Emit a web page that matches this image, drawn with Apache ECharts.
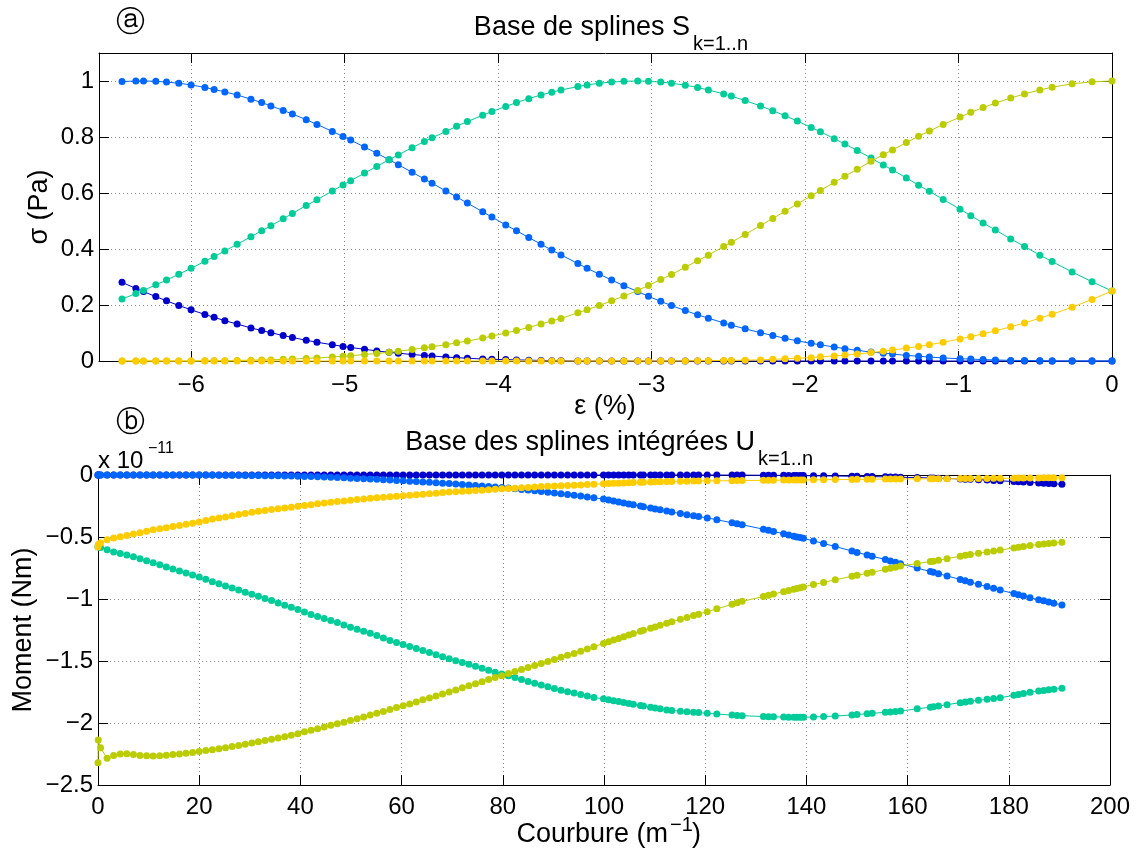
<!DOCTYPE html>
<html>
<head>
<meta charset="utf-8">
<script src="https://cdn.jsdelivr.net/npm/echarts@6/dist/echarts.min.js"></script>
<style>html,body{margin:0;padding:0;background:#fff}#c{width:1136px;height:852px}</style>
</head>
<body>
<div id="c"></div>
<script>
// ---------- Top panel: strain (%) and spline bases S1..S5 ----------
const strain = [-6.45, -6.36, -6.31, -6.23, -6.16, -6.08, -6.00, -5.91, -5.85, -5.78,
 -5.70, -5.61, -5.54, -5.48, -5.40, -5.34, -5.25, -5.18, -5.08, -5.01,
 -4.96, -4.87, -4.79, -4.71, -4.65, -4.56, -4.48, -4.43, -4.34, -4.27,
 -4.20, -4.10, -4.04, -3.95, -3.88, -3.80, -3.72, -3.65, -3.59, -3.48,
 -3.42, -3.34, -3.26, -3.18, -3.09, -3.02, -2.94, -2.87, -2.78, -2.70,
 -2.63, -2.53, -2.48, -2.39, -2.29, -2.21, -2.13, -2.05, -1.96, -1.90,
 -1.81, -1.74, -1.66, -1.57, -1.49, -1.43, -1.34, -1.26, -1.19, -1.10,
 -0.99, -0.92, -0.84, -0.76, -0.66, -0.57, -0.47, -0.39, -0.26, -0.13,
 0];
const S1 = [0.281, 0.259, 0.248, 0.230, 0.215, 0.198, 0.183, 0.166, 0.156, 0.144,
 0.132, 0.118, 0.109, 0.101, 0.091, 0.084, 0.074, 0.067, 0.058, 0.052,
 0.048, 0.042, 0.036, 0.031, 0.028, 0.023, 0.020, 0.018, 0.014, 0.012,
 0.010, 0.007, 0.006, 0.005, 0.004, 0.003, 0.002, 0.001, 0.001, 0,
 0, 0, 0, 0, 0, 0, 0, 0, 0, 0,
 0, 0, 0, 0, 0, 0, 0, 0, 0, 0,
 0, 0, 0, 0, 0, 0, 0, 0, 0, 0,
 0, 0, 0, 0, 0, 0, 0, 0, 0, 0,
 0];
const S2 = [0.998, 1.000, 1.000, 0.999, 0.996, 0.992, 0.986, 0.977, 0.970, 0.961,
 0.950, 0.935, 0.923, 0.911, 0.895, 0.882, 0.862, 0.845, 0.820, 0.802,
 0.789, 0.764, 0.742, 0.719, 0.701, 0.674, 0.650, 0.635, 0.607, 0.586,
 0.564, 0.533, 0.514, 0.486, 0.465, 0.441, 0.417, 0.396, 0.379, 0.348,
 0.331, 0.310, 0.289, 0.269, 0.248, 0.231, 0.213, 0.198, 0.180, 0.165,
 0.153, 0.136, 0.128, 0.115, 0.101, 0.091, 0.081, 0.072, 0.063, 0.058,
 0.050, 0.044, 0.038, 0.032, 0.028, 0.025, 0.020, 0.017, 0.014, 0.011,
 0.008, 0.007, 0.005, 0.004, 0.002, 0.002, 0.001, 0, 0, 0,
 0];
const S3 = [0.221, 0.241, 0.252, 0.272, 0.289, 0.310, 0.331, 0.356, 0.373, 0.393,
 0.417, 0.444, 0.465, 0.483, 0.508, 0.527, 0.555, 0.576, 0.607, 0.629,
 0.644, 0.671, 0.695, 0.719, 0.736, 0.762, 0.784, 0.797, 0.820, 0.838,
 0.855, 0.878, 0.891, 0.909, 0.923, 0.937, 0.950, 0.960, 0.968, 0.980,
 0.986, 0.992, 0.996, 0.999, 1.000, 0.999, 0.996, 0.992, 0.985, 0.977,
 0.968, 0.954, 0.946, 0.930, 0.911, 0.894, 0.876, 0.857, 0.834, 0.819,
 0.794, 0.775, 0.752, 0.725, 0.700, 0.682, 0.654, 0.628, 0.606, 0.577,
 0.542, 0.519, 0.493, 0.468, 0.436, 0.409, 0.378, 0.355, 0.318, 0.283,
 0.250];
const S4 = [0, 0, 0, 0, 0, 0, 0, 0.001, 0.001, 0.001,
 0.002, 0.003, 0.004, 0.004, 0.006, 0.007, 0.009, 0.011, 0.014, 0.017,
 0.019, 0.023, 0.027, 0.031, 0.035, 0.041, 0.047, 0.051, 0.058, 0.065,
 0.071, 0.082, 0.089, 0.100, 0.109, 0.120, 0.132, 0.143, 0.152, 0.172,
 0.183, 0.198, 0.215, 0.232, 0.252, 0.270, 0.291, 0.309, 0.335, 0.358,
 0.378, 0.409, 0.424, 0.452, 0.484, 0.509, 0.535, 0.561, 0.590, 0.609,
 0.638, 0.660, 0.685, 0.713, 0.737, 0.754, 0.780, 0.803, 0.821, 0.845,
 0.871, 0.888, 0.905, 0.921, 0.939, 0.954, 0.968, 0.978, 0.990, 0.997,
 1.000];
const S5 = [0, 0, 0, 0, 0, 0, 0, 0, 0, 0,
 0, 0, 0, 0, 0, 0, 0, 0, 0, 0,
 0, 0, 0, 0, 0, 0, 0, 0, 0, 0,
 0, 0, 0, 0, 0, 0, 0, 0, 0, 0,
 0, 0, 0, 0, 0, 0, 0, 0, 0, 0.001,
 0.001, 0.002, 0.002, 0.003, 0.004, 0.006, 0.008, 0.010, 0.012, 0.015,
 0.018, 0.021, 0.025, 0.030, 0.035, 0.039, 0.046, 0.052, 0.058, 0.067,
 0.079, 0.087, 0.097, 0.108, 0.122, 0.136, 0.153, 0.167, 0.192, 0.220,
 0.250];

// ---------- Bottom panel: curvature (1/m) and integrated bases U1..U5 (x 1e-11) ----------
const curv = [0, 0.05, 0.5, 1.8, 3.1, 4.4, 5.7, 7.0, 8.3, 9.6,
 10.9, 12.2, 13.5, 14.8, 16.1, 17.4, 18.7, 20.0, 21.3, 22.6,
 23.9, 25.2, 26.5, 27.8, 29.1, 30.4, 31.7, 33.0, 34.3, 35.6,
 36.9, 38.2, 39.5, 40.8, 42.1, 43.4, 44.7, 46.0, 47.3, 48.6,
 49.9, 51.2, 52.5, 53.8, 55.1, 56.4, 57.7, 59.0, 60.3, 61.6,
 62.9, 64.2, 65.5, 66.8, 68.1, 69.4, 70.7, 72.0, 73.3, 74.6,
 75.9, 77.2, 78.5, 79.8, 81.1, 82.4, 83.7, 85.0, 86.3, 87.6,
 88.9, 90.2, 91.5, 92.8, 94.1, 95.4, 96.7, 98.0,
 99.9, 100.9, 101.9, 102.9, 103.9, 104.9, 105.8, 107.2, 107.8, 109.2,
 110.1, 111.1, 112.4, 113.4, 115.1, 116.4, 117.7, 118.7, 120.4, 122.3,
 125.3, 126.3, 127.3, 131.5, 132.5, 133.5, 135.5, 136.5, 137.5, 138.1,
 138.8, 139.4, 141.4, 143.4, 145.7, 149.0, 150.0, 152.0, 153.0, 155.6,
 156.6, 157.6, 158.6, 161.9, 164.5, 165.1, 166.1, 167.8, 170.4, 171.4,
 172.4, 174.0, 175.7, 177.0, 178.3, 181.0, 181.9, 182.9, 184.2, 185.9,
 186.9, 187.9, 188.9, 190.5];
const U1 = [0, 0, 0, 0, 0, 0, 0, 0, 0, 0,
 0, 0, 0, 0, 0, 0, 0, 0, 0, 0,
 0, 0, 0, 0, 0, 0, 0, 0, 0, 0,
 0, 0, 0, 0, 0, 0, 0, 0, 0, 0,
 0, 0, 0, 0, 0, 0, 0, 0, 0, 0,
 0, 0, 0, 0, 0, 0, 0, 0, 0, 0,
 0, 0, 0, 0, 0, 0, 0, 0, 0, 0,
 0, 0, 0, 0, 0, 0, 0, 0,
 0, 0, 0, 0, 0, 0, 0, 0, 0, 0,
 0, 0, 0, 0, 0, 0, 0, 0, 0, 0,
 -0.001, -0.001, -0.001, -0.002, -0.002, -0.003, -0.003, -0.004, -0.004, -0.004,
 -0.005, -0.005, -0.006, -0.007, -0.008, -0.010, -0.011, -0.012, -0.013, -0.015,
 -0.016, -0.017, -0.018, -0.021, -0.024, -0.025, -0.026, -0.028, -0.032, -0.034,
 -0.035, -0.038, -0.041, -0.044, -0.047, -0.053, -0.055, -0.057, -0.060, -0.064,
 -0.066, -0.069, -0.071, -0.075];
const U2 = [0, 0, 0, 0, 0, 0, 0, 0, 0, 0,
 0, 0, 0, 0, 0, 0, 0, 0, -0.001, -0.001,
 -0.002, -0.002, -0.003, -0.003, -0.004, -0.004, -0.005, -0.006, -0.007, -0.007,
 -0.008, -0.009, -0.011, -0.012, -0.013, -0.015, -0.017, -0.019, -0.021, -0.023,
 -0.026, -0.028, -0.030, -0.033, -0.035, -0.038, -0.041, -0.044, -0.047, -0.050,
 -0.053, -0.056, -0.059, -0.063, -0.066, -0.069, -0.073, -0.077, -0.081, -0.084,
 -0.088, -0.092, -0.096, -0.100, -0.105, -0.110, -0.116, -0.121, -0.127, -0.133,
 -0.139, -0.145, -0.151, -0.157, -0.164, -0.170, -0.177, -0.184,
 -0.194, -0.202, -0.210, -0.218, -0.225, -0.233, -0.240, -0.251, -0.256, -0.267,
 -0.274, -0.281, -0.291, -0.299, -0.311, -0.320, -0.328, -0.335, -0.346, -0.361,
 -0.385, -0.393, -0.401, -0.437, -0.446, -0.455, -0.474, -0.483, -0.493, -0.499,
 -0.505, -0.511, -0.532, -0.552, -0.577, -0.613, -0.624, -0.645, -0.655, -0.682,
 -0.693, -0.704, -0.715, -0.751, -0.779, -0.785, -0.796, -0.814, -0.842, -0.853,
 -0.864, -0.881, -0.900, -0.914, -0.928, -0.956, -0.966, -0.976, -0.990, -1.006,
 -1.015, -1.024, -1.034, -1.048];
const U3 = [-0.578, -0.579, -0.584, -0.602, -0.620, -0.634, -0.646, -0.659, -0.675, -0.692,
 -0.708, -0.724, -0.741, -0.758, -0.774, -0.790, -0.806, -0.823, -0.841, -0.860,
 -0.878, -0.895, -0.911, -0.928, -0.945, -0.961, -0.977, -0.995, -1.013, -1.032,
 -1.050, -1.066, -1.084, -1.105, -1.124, -1.141, -1.157, -1.173, -1.190, -1.209,
 -1.228, -1.244, -1.260, -1.277, -1.294, -1.315, -1.335, -1.351, -1.367, -1.384,
 -1.400, -1.416, -1.431, -1.449, -1.466, -1.482, -1.497, -1.512, -1.527, -1.543,
 -1.558, -1.574, -1.590, -1.604, -1.619, -1.634, -1.649, -1.665, -1.680, -1.694,
 -1.708, -1.721, -1.735, -1.747, -1.759, -1.771, -1.783, -1.794,
 -1.805, -1.813, -1.820, -1.827, -1.834, -1.842, -1.849, -1.858, -1.862, -1.872,
 -1.879, -1.886, -1.895, -1.899, -1.905, -1.909, -1.913, -1.916, -1.922, -1.928,
 -1.936, -1.939, -1.941, -1.948, -1.949, -1.950, -1.952, -1.953, -1.953, -1.954,
 -1.954, -1.954, -1.951, -1.948, -1.944, -1.935, -1.932, -1.925, -1.922, -1.914,
 -1.911, -1.907, -1.903, -1.886, -1.872, -1.868, -1.863, -1.852, -1.836, -1.830,
 -1.825, -1.817, -1.809, -1.802, -1.796, -1.777, -1.770, -1.762, -1.752, -1.742,
 -1.737, -1.732, -1.728, -1.720];
const U4 = [-2.320, -2.137, -2.199, -2.285, -2.263, -2.250, -2.247, -2.255, -2.262, -2.265,
 -2.266, -2.264, -2.260, -2.255, -2.249, -2.244, -2.237, -2.229, -2.222, -2.215,
 -2.208, -2.200, -2.190, -2.181, -2.172, -2.161, -2.152, -2.142, -2.132, -2.121,
 -2.111, -2.099, -2.086, -2.071, -2.059, -2.046, -2.033, -2.019, -2.007, -1.994,
 -1.980, -1.966, -1.951, -1.936, -1.921, -1.908, -1.892, -1.876, -1.860, -1.846,
 -1.831, -1.813, -1.798, -1.782, -1.766, -1.750, -1.734, -1.715, -1.699, -1.684,
 -1.668, -1.649, -1.633, -1.618, -1.601, -1.584, -1.568, -1.552, -1.536, -1.520,
 -1.505, -1.487, -1.470, -1.454, -1.439, -1.421, -1.404, -1.386,
 -1.358, -1.345, -1.331, -1.318, -1.304, -1.291, -1.278, -1.261, -1.253, -1.236,
 -1.225, -1.212, -1.196, -1.184, -1.164, -1.149, -1.134, -1.122, -1.102, -1.079,
 -1.043, -1.031, -1.019, -0.980, -0.970, -0.960, -0.941, -0.931, -0.922, -0.916,
 -0.909, -0.903, -0.884, -0.866, -0.845, -0.817, -0.809, -0.793, -0.785, -0.761,
 -0.752, -0.743, -0.734, -0.714, -0.698, -0.695, -0.688, -0.675, -0.655, -0.647,
 -0.641, -0.631, -0.621, -0.613, -0.605, -0.589, -0.583, -0.577, -0.569, -0.561,
 -0.557, -0.553, -0.549, -0.543];
const U5 = [-0.580, -0.560, -0.548, -0.522, -0.508, -0.497, -0.487, -0.476, -0.465, -0.454,
 -0.442, -0.433, -0.425, -0.416, -0.407, -0.398, -0.389, -0.379, -0.366, -0.354,
 -0.346, -0.338, -0.329, -0.319, -0.310, -0.301, -0.293, -0.286, -0.279, -0.272,
 -0.266, -0.260, -0.253, -0.246, -0.239, -0.232, -0.226, -0.219, -0.214, -0.209,
 -0.204, -0.198, -0.193, -0.188, -0.184, -0.180, -0.176, -0.172, -0.167, -0.163,
 -0.159, -0.155, -0.151, -0.147, -0.142, -0.138, -0.135, -0.132, -0.129, -0.126,
 -0.122, -0.118, -0.114, -0.111, -0.109, -0.107, -0.103, -0.100, -0.097, -0.093,
 -0.091, -0.089, -0.087, -0.085, -0.083, -0.080, -0.077, -0.075,
 -0.071, -0.069, -0.067, -0.066, -0.064, -0.062, -0.061, -0.059, -0.058, -0.056,
 -0.055, -0.054, -0.053, -0.052, -0.051, -0.050, -0.049, -0.048, -0.047, -0.047,
 -0.046, -0.045, -0.045, -0.043, -0.043, -0.042, -0.041, -0.041, -0.040, -0.040,
 -0.040, -0.040, -0.039, -0.038, -0.037, -0.036, -0.035, -0.035, -0.034, -0.033,
 -0.033, -0.032, -0.032, -0.031, -0.031, -0.030, -0.030, -0.030, -0.029, -0.029,
 -0.029, -0.028, -0.028, -0.027, -0.027, -0.026, -0.025, -0.025, -0.024, -0.024,
 -0.023, -0.023, -0.023, -0.022];

// tick labels
const topXTicks = [-6, -5, -4, -3, -2, -1, 0];
const topYTicks = [0, 0.2, 0.4, 0.6, 0.8, 1];

const colors = ['#0000CC', '#0066FF', '#00CC99', '#BBCC00', '#FFCC00'];
const FONT = "'Liberation Sans', Arial, Helvetica, sans-serif";

function fmt(v) { return v < 0 ? '\u2212' + String(-v) : String(v); }

const lineBox = { onZero: false, lineStyle: { color: '#000', width: 1 } };
const grid = { show: false };
function mainX(gi, min, max, extra) {
  return Object.assign({
    gridIndex: gi, type: 'value', min: min, max: max, position: 'bottom',
    axisLine: lineBox,
    axisTick: { inside: true, length: 10, lineStyle: { color: '#000', width: 1 } },
    axisLabel: { fontSize: 24, fontFamily: FONT, color: '#000', margin: 12, formatter: fmt },
    splitLine: { show: true, lineStyle: { type: [1, 3], color: '#8a8a8a', width: 1 } }
  }, extra || {});
}
function mainY(gi, min, max, extra) {
  return Object.assign({
    gridIndex: gi, type: 'value', min: min, max: max, position: 'left',
    axisLine: lineBox,
    axisTick: { inside: true, length: 10, lineStyle: { color: '#000', width: 1 } },
    axisLabel: { fontSize: 24, fontFamily: FONT, color: '#000', margin: 5, formatter: fmt },
    splitLine: { show: true, lineStyle: { type: [1, 3], color: '#8a8a8a', width: 1 } }
  }, extra || {});
}
function mirror(axis, pos) {
  const a = JSON.parse(JSON.stringify(axis));
  a.position = pos;
  a.axisLabel = { show: false };
  a.splitLine = { show: false };
  return a;
}

const xTop = mainX(0, -6.6, 0, {});
xTop.axisTick.customValues = topXTicks;
xTop.axisLabel.customValues = topXTicks;
const yTop = mainY(0, 0, 1.1, {});
yTop.axisTick.customValues = topYTicks;
yTop.axisLabel.customValues = topYTicks;
const xBot = mainX(1, 0, 200, { interval: 20 });
xBot.axisLabel.margin = 10;
const yBot = mainY(1, -2.5, 0, { interval: 0.5 });

const xAxes = [xTop, mirror(xTop, 'top'), xBot, mirror(xBot, 'top')];
xAxes[1].axisLabel.formatter = fmt; xAxes[3].axisLabel.formatter = fmt;
const yAxes = [yTop, mirror(yTop, 'right'), yBot, mirror(yBot, 'right')];

function mk(xs, ys, xi, yi, color, z) {
  return {
    type: 'line', xAxisIndex: xi, yAxisIndex: yi,
    data: xs.map((x, i) => [x, ys[i]]),
    symbol: 'circle', symbolSize: 7, showSymbol: true, clip: false,
    lineStyle: { color: color, width: 1 }, itemStyle: { color: color },
    emphasis: { disabled: true }, silent: true, animation: false, z: z
  };
}
const topS = [S1, S2, S3, S4, S5];
const botU = [U1, U2, U3, U4, U5];
const series = [];
topS.forEach((s, i) => series.push(mk(strain, s, 0, 0, colors[i], 2 + i * 0.01)));
botU.forEach((s, i) => series.push(mk(curv, s, 2, 2, colors[i], 2 + i * 0.01)));

function txt(x, y, text, size, align, extra) {
  return Object.assign({
    type: 'text', x: x, y: y, z: 100,
    style: { text: text, fontSize: size, fontFamily: FONT, fill: '#000', align: align, verticalAlign: 'middle' }
  }, extra || {});
}
const circ = (x, y, t) => ({ type: 'text', x: x, y: y, z: 100,
  style: { text: t, fontSize: 29, fontFamily: "'DejaVu Sans', sans-serif", fill: '#000', align: 'center', verticalAlign: 'middle' } });

const graphic = [
  circ(130, 23, '\u24D0'),
  txt(690, 28, 'Base de splines S', 27, 'right'),
  txt(693, 44, 'k=1..n', 20, 'left'),
  txt(40, 207, '\u03C3 (Pa)', 27, 'center', { rotation: Math.PI / 2 }),
  txt(605, 407, '\u03B5 (%)', 27, 'center'),
  circ(130, 423, '\u24D1'),
  txt(755, 443, 'Base des splines int\u00E9gr\u00E9es U', 27, 'right'),
  txt(758, 459, 'k=1..n', 20, 'left'),
  txt(98, 461, 'x 10', 24, 'left'),
  txt(148, 449, '\u221211', 16, 'left'),
  txt(24, 630, 'Moment (Nm)', 27, 'center', { rotation: Math.PI / 2 }),
  txt(668, 835, 'Courbure (m', 27, 'right'),
  txt(670, 825, '\u22121', 20, 'left'),
  txt(692, 835, ')', 27, 'left')
];

const chart = echarts.init(document.getElementById('c'), null, { renderer: 'canvas', width: 1136, height: 852 });
chart.setOption({
  backgroundColor: '#fff',
  animation: false,
  grid: [
    { left: 99, top: 53, width: 1013, height: 308, outerBoundsMode: 'none', containLabel: false },
    { left: 98, top: 475, width: 1012, height: 310, outerBoundsMode: 'none', containLabel: false }
  ],
  xAxis: xAxes,
  yAxis: yAxes,
  series: series,
  graphic: graphic
});
</script>
</body>
</html>
